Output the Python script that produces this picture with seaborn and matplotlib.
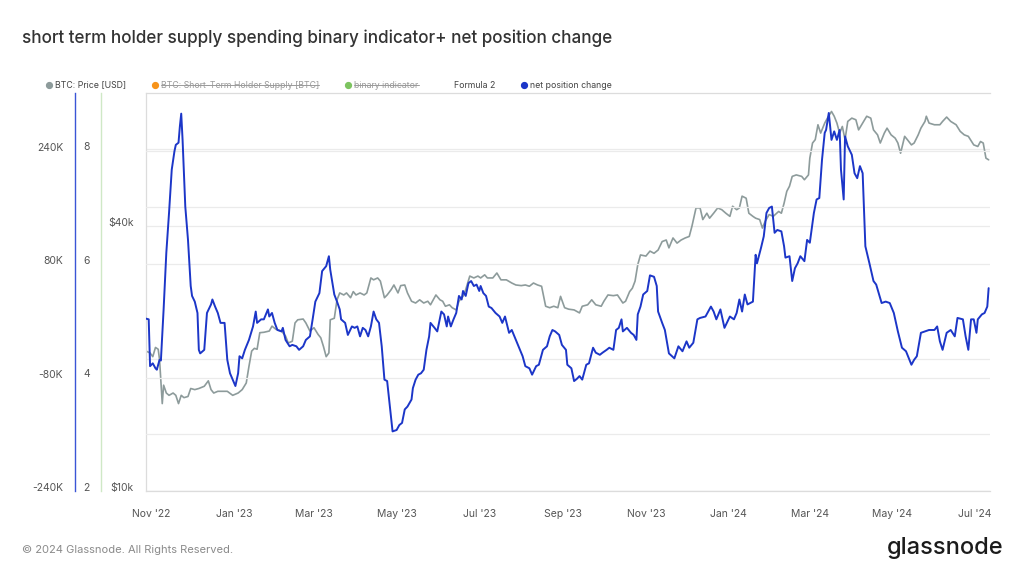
import matplotlib
matplotlib.use("Agg")
import matplotlib.pyplot as plt
import matplotlib.transforms as mtransforms
import seaborn as sns
import pandas as pd
from matplotlib.lines import Line2D

# -------------------------
# Data
# -------------------------
net_dates = [
    "2022-10-28", "2022-10-30", "2022-10-31", "2022-11-02", "2022-11-04", "2022-11-05", "2022-11-07",
    "2022-11-08", "2022-11-10", "2022-11-12", "2022-11-14", "2022-11-16", "2022-11-18", "2022-11-19",
    "2022-11-21", "2022-11-22", "2022-11-23", "2022-11-24", "2022-11-26", "2022-11-28", "2022-11-30",
    "2022-12-01", "2022-12-03", "2022-12-05", "2022-12-06", "2022-12-07", "2022-12-10", "2022-12-12",
    "2022-12-15", "2022-12-16", "2022-12-18", "2022-12-20", "2022-12-22", "2022-12-25", "2022-12-27",
    "2022-12-29", "2022-12-31",
    "2023-01-02", "2023-01-04", "2023-01-05", "2023-01-07", "2023-01-09", "2023-01-12", "2023-01-15",
    "2023-01-17", "2023-01-18", "2023-01-21", "2023-01-23", "2023-01-26", "2023-01-27", "2023-01-29",
    "2023-01-31",
    "2023-02-02", "2023-02-05", "2023-02-06", "2023-02-08", "2023-02-11", "2023-02-13", "2023-02-16",
    "2023-02-18", "2023-02-21", "2023-02-23", "2023-02-26", "2023-02-28",
    "2023-03-02", "2023-03-05", "2023-03-07", "2023-03-10", "2023-03-12", "2023-03-13", "2023-03-16",
    "2023-03-18", "2023-03-20", "2023-03-21", "2023-03-24", "2023-03-26", "2023-03-29", "2023-03-31",
    "2023-04-02", "2023-04-04", "2023-04-06", "2023-04-08", "2023-04-10", "2023-04-12", "2023-04-14",
    "2023-04-16", "2023-04-18", "2023-04-20", "2023-04-22", "2023-04-24", "2023-04-26", "2023-04-28",
    "2023-05-01", "2023-05-03", "2023-05-05", "2023-05-07", "2023-05-09", "2023-05-12", "2023-05-13",
    "2023-05-15", "2023-05-17", "2023-05-19", "2023-05-21", "2023-05-23", "2023-05-25", "2023-05-26",
    "2023-05-29", "2023-05-31",
    "2023-06-03", "2023-06-05", "2023-06-07", "2023-06-08", "2023-06-10", "2023-06-12", "2023-06-14",
    "2023-06-16", "2023-06-18", "2023-06-19", "2023-06-21", "2023-06-23", "2023-06-25", "2023-06-27",
    "2023-06-29",
    "2023-07-01", "2023-07-02", "2023-07-04", "2023-07-06", "2023-07-08", "2023-07-10", "2023-07-13",
    "2023-07-16", "2023-07-18", "2023-07-20", "2023-07-23", "2023-07-25", "2023-07-28", "2023-07-31",
    "2023-08-02", "2023-08-04", "2023-08-07", "2023-08-09", "2023-08-12", "2023-08-14", "2023-08-17",
    "2023-08-20", "2023-08-22", "2023-08-24", "2023-08-26", "2023-08-29", "2023-08-31",
    "2023-09-03", "2023-09-04", "2023-09-07", "2023-09-09", "2023-09-11", "2023-09-13", "2023-09-15",
    "2023-09-18", "2023-09-20", "2023-09-23", "2023-09-25", "2023-09-28", "2023-09-30",
    "2023-10-03", "2023-10-05", "2023-10-08", "2023-10-10", "2023-10-12", "2023-10-14", "2023-10-15",
    "2023-10-18", "2023-10-21", "2023-10-23", "2023-10-25", "2023-10-26", "2023-10-28", "2023-10-30",
    "2023-11-02", "2023-11-04", "2023-11-07", "2023-11-09", "2023-11-10", "2023-11-13", "2023-11-15",
    "2023-11-18", "2023-11-22", "2023-11-25", "2023-11-28",
    "2023-12-01", "2023-12-03", "2023-12-06", "2023-12-09", "2023-12-11", "2023-12-15", "2023-12-19",
    "2023-12-21", "2023-12-23", "2023-12-26", "2023-12-29",
    "2024-01-02", "2024-01-05", "2024-01-07", "2024-01-09", "2024-01-11", "2024-01-13", "2024-01-15",
    "2024-01-19", "2024-01-21", "2024-01-22", "2024-01-25", "2024-01-27", "2024-01-29", "2024-01-31",
    "2024-02-02", "2024-02-04", "2024-02-06", "2024-02-09", "2024-02-11", "2024-02-12", "2024-02-15",
    "2024-02-17", "2024-02-19", "2024-02-21", "2024-02-23", "2024-02-26", "2024-02-28",
    "2024-03-01", "2024-03-04", "2024-03-06", "2024-03-08", "2024-03-10", "2024-03-12", "2024-03-13",
    "2024-03-15", "2024-03-17", "2024-03-19", "2024-03-21", "2024-03-23", "2024-03-24", "2024-03-26",
    "2024-03-27", "2024-03-29",
    "2024-04-01", "2024-04-03", "2024-04-05", "2024-04-07", "2024-04-09", "2024-04-11", "2024-04-14",
    "2024-04-17", "2024-04-19", "2024-04-23", "2024-04-26", "2024-04-29",
    "2024-05-02", "2024-05-05", "2024-05-08", "2024-05-11", "2024-05-15", "2024-05-17", "2024-05-19",
    "2024-05-22", "2024-05-25", "2024-05-28",
    "2024-06-01", "2024-06-03", "2024-06-05", "2024-06-07", "2024-06-10", "2024-06-13", "2024-06-16",
    "2024-06-18", "2024-06-22", "2024-06-24", "2024-06-26", "2024-06-28", "2024-06-30",
    "2024-07-02", "2024-07-03", "2024-07-06", "2024-07-08", "2024-07-10", "2024-07-11",
]
# net position change, thousands of BTC
net_change_k = [
    3, 2, -64, -60, -67, -69, -55, -56, 16, 96, 152, 213, 239, 248, 251, 274, 292, 255, 161, 114, 49,
    35, 27, 11, -41, -46, -41, 11, 23, 30, 20, 11, -3, -3, -55, -74, -83,
    -92, -74, -50, -53, -41, -27, -8, 13, -3, 2, 2, 16, 6, 11, -3,
    -13, -15, -10, -27, -36, -34, -36, -41, -36, -27, -22, 2,
    27, 39, 70, 77, 91, 72, 37, 27, 16, 2, -3, -20, -8, -10,
    -8, -22, -10, -13, -22, -8, 13, 2, -3, -36, -83, -85, -121, -156,
    -154, -147, -144, -125, -121, -111, -95, -83, -76, -74, -69, -41, -22, -3, -10, -15,
    13, 9, -8, 6, -8, 2, 11, 35, 30, 42, 35, 53, 56, 49, 51,
    42, 49, 39, 35, 20, 18, 11, 6, -3, 6, -17, -13, -27, -41,
    -50, -64, -67, -76, -64, -62, -41, -36, -22, -13, -15, -20, -34,
    -41, -62, -67, -85, -82, -78, -83, -62, -60, -38, -45, -48, -45,
    -41, -38, -41, -13, -10, 2, -15, -10, -17, -20, -27, 9, 20, 37,
    42, 64, 62, 49, 13, -3, -13, -46, -53, -36, -43,
    -29, -38, -31, 2, 4, 6, 20, 13, 2, 16, -10,
    6, 2, 11, 30, 13, 37, 23, 27, 93, 81, 103, 119, 152, 159,
    161, 124, 128, 126, 105, 89, 91, 56, 74, 81, 91, 84, 114,
    110, 152, 171, 173, 227, 265, 269, 293, 255, 267, 255, 269, 213, 171, 260, 246,
    234, 208, 201, 218, 208, 105, 81, 56, 51, 25, 27, 25,
    11, -15, -38, -43, -62, -55, -50, -17, -15, -13,
    -13, -8, -29, -41, -17, -13, -22, 4, 2, -22, -41, 2, 2,
    -17, 2, 9, 11, 20, 46,
]

price_dates = [
    "2022-10-28", "2022-10-31", "2022-11-02", "2022-11-04", "2022-11-06", "2022-11-07", "2022-11-09",
    "2022-11-10", "2022-11-12", "2022-11-14", "2022-11-17", "2022-11-19", "2022-11-21", "2022-11-23",
    "2022-11-25", "2022-11-28", "2022-11-30",
    "2022-12-03", "2022-12-06", "2022-12-10", "2022-12-13", "2022-12-15", "2022-12-17", "2022-12-20",
    "2022-12-24", "2022-12-27", "2022-12-31",
    "2023-01-04", "2023-01-07", "2023-01-10", "2023-01-12", "2023-01-14", "2023-01-16", "2023-01-18",
    "2023-01-20", "2023-01-23", "2023-01-27", "2023-01-29",
    "2023-02-01", "2023-02-05", "2023-02-08", "2023-02-10", "2023-02-13", "2023-02-15", "2023-02-17",
    "2023-02-21", "2023-02-23", "2023-02-26",
    "2023-03-01", "2023-03-04", "2023-03-06", "2023-03-08", "2023-03-10", "2023-03-12", "2023-03-13",
    "2023-03-16", "2023-03-18", "2023-03-20", "2023-03-23", "2023-03-25", "2023-03-28", "2023-03-30",
    "2023-04-01", "2023-04-04", "2023-04-07", "2023-04-09", "2023-04-12", "2023-04-14", "2023-04-17",
    "2023-04-19", "2023-04-22", "2023-04-24", "2023-04-27", "2023-04-29",
    "2023-05-02", "2023-05-04", "2023-05-07", "2023-05-09", "2023-05-12", "2023-05-15", "2023-05-18",
    "2023-05-21", "2023-05-24", "2023-05-26", "2023-05-30",
    "2023-06-02", "2023-06-04", "2023-06-06", "2023-06-09", "2023-06-11", "2023-06-14", "2023-06-16",
    "2023-06-19", "2023-06-21", "2023-06-24", "2023-06-27", "2023-06-30",
    "2023-07-02", "2023-07-05", "2023-07-07", "2023-07-11", "2023-07-14", "2023-07-17", "2023-07-21",
    "2023-07-25", "2023-07-28",
    "2023-08-01", "2023-08-04", "2023-08-07", "2023-08-10", "2023-08-13", "2023-08-16", "2023-08-19",
    "2023-08-22", "2023-08-25", "2023-08-28", "2023-08-30",
    "2023-09-02", "2023-09-05", "2023-09-09", "2023-09-13", "2023-09-15", "2023-09-19", "2023-09-22",
    "2023-09-25", "2023-09-29",
    "2023-10-01", "2023-10-04", "2023-10-08", "2023-10-11", "2023-10-15", "2023-10-17", "2023-10-20",
    "2023-10-22", "2023-10-24", "2023-10-26", "2023-10-28",
    "2023-11-01", "2023-11-04", "2023-11-07", "2023-11-10", "2023-11-13", "2023-11-16", "2023-11-18",
    "2023-11-21", "2023-11-24", "2023-11-27", "2023-11-30",
    "2023-12-03", "2023-12-05", "2023-12-08", "2023-12-11", "2023-12-13", "2023-12-16", "2023-12-18",
    "2023-12-21", "2023-12-24", "2023-12-27", "2023-12-30",
    "2024-01-02", "2024-01-04", "2024-01-07", "2024-01-09", "2024-01-11", "2024-01-14", "2024-01-16",
    "2024-01-19", "2024-01-21", "2024-01-24", "2024-01-26", "2024-01-28", "2024-01-31",
    "2024-02-03", "2024-02-07", "2024-02-09", "2024-02-11", "2024-02-13", "2024-02-15", "2024-02-17",
    "2024-02-20", "2024-02-24", "2024-02-26", "2024-02-29",
    "2024-03-01", "2024-03-03", "2024-03-05", "2024-03-07", "2024-03-09", "2024-03-12", "2024-03-14",
    "2024-03-17", "2024-03-19", "2024-03-21", "2024-03-23", "2024-03-25", "2024-03-27", "2024-03-29",
    "2024-04-01", "2024-04-04", "2024-04-06", "2024-04-09", "2024-04-12", "2024-04-15", "2024-04-17",
    "2024-04-20", "2024-04-22", "2024-04-25", "2024-04-27", "2024-04-30",
    "2024-05-03", "2024-05-05", "2024-05-07", "2024-05-10", "2024-05-12", "2024-05-15", "2024-05-17",
    "2024-05-20", "2024-05-22", "2024-05-25", "2024-05-26", "2024-05-28",
    "2024-06-01", "2024-06-05", "2024-06-07", "2024-06-10", "2024-06-13", "2024-06-17", "2024-06-20",
    "2024-06-23", "2024-06-26", "2024-06-30",
    "2024-07-03", "2024-07-05", "2024-07-07", "2024-07-09", "2024-07-11",
]
# BTC price, thousands of USD
price_usd_k = [
    20.8, 20.6, 20.2, 21.2, 21.0, 19.9, 15.8, 17.4, 16.7, 16.5, 16.7, 16.5, 15.8, 16.5, 16.3, 16.4, 17.1,
    17.0, 17.1, 17.3, 17.8, 17.0, 16.7, 16.85, 16.85, 16.85, 16.5,
    16.7, 17.0, 17.6, 19.2, 20.8, 21.1, 21.0, 22.9, 22.95, 23.1, 23.7,
    23.3, 23.1, 22.5, 21.7, 21.9, 24.1, 24.5, 24.6, 24.1, 23.1,
    23.5, 22.7, 22.3, 21.3, 20.2, 20.6, 24.5, 24.7, 27.2, 28.2, 27.9, 28.2, 27.5, 28.4,
    27.9, 28.2, 27.9, 28.2, 30.5, 30.2, 30.5, 30.0, 27.5, 27.9, 28.7, 29.4,
    28.2, 29.3, 29.4, 28.2, 27.0, 26.75, 27.2, 26.75, 27.0, 26.5, 27.9,
    27.2, 27.0, 26.3, 26.5, 26.1, 25.8, 27.0, 27.7, 28.7, 30.8, 30.5, 30.8,
    30.5, 31.0, 30.5, 30.5, 31.3, 30.2, 30.2, 29.7, 29.4,
    29.3, 29.4, 29.2, 29.7, 29.4, 29.2, 26.3, 26.1, 26.3, 26.1, 27.7,
    26.1, 25.9, 25.8, 25.4, 26.3, 26.5, 27.2, 26.5, 26.3,
    27.0, 27.9, 27.8, 27.9, 26.75, 27.0, 28.4, 28.9, 30.0, 32.7, 34.4,
    34.2, 35.1, 34.7, 35.3, 36.9, 37.2, 35.7, 37.6, 36.6, 37.2, 37.6,
    37.9, 40.0, 44.0, 44.0, 41.4, 42.8, 41.7, 42.8, 44.0, 43.6, 42.8,
    42.1, 44.4, 43.6, 44.0, 46.8, 46.3, 42.8, 42.1, 41.7, 41.4, 39.6, 41.0, 42.5,
    42.1, 43.2, 42.8, 45.1, 48.0, 49.3, 51.9, 52.3, 51.9, 51.0, 52.3,
    57.1, 61.8, 62.9, 68.0, 65.1, 68.6, 70.4, 72.9, 71.1, 68.6, 65.1, 67.4, 62.9, 69.2,
    70.4, 69.8, 66.2, 68.6, 71.1, 70.4, 66.2, 64.5, 61.8, 65.1, 66.8, 64.5,
    63.4, 61.8, 58.6, 64.0, 62.9, 61.2, 61.8, 64.5, 66.8, 69.2, 71.1, 68.6,
    68.0, 68.0, 69.2, 70.8, 69.2, 68.0, 65.7, 64.5, 64.0, 61.2,
    60.7, 62.3, 61.8, 57.1, 56.6,
]

month_ticks = ["2022-11-01", "2023-01-01", "2023-03-01", "2023-05-01", "2023-07-01", "2023-09-01",
               "2023-11-01", "2024-01-01", "2024-03-01", "2024-05-01", "2024-07-01"]
month_labels = ["Nov '22", "Jan '23", "Mar '23", "May '23", "Jul '23", "Sep '23",
                "Nov '23", "Jan '24", "Mar '24", "May '24", "Jul '24"]

net_ticks = [-240, -160, -80, 80, 160, 240]
net_tick_labels = ["-240K", "", "-80K", "80K", "", "240K"]
formula_ticks = [2, 4, 6, 8]
price_ticks = [10, 20, 40, 60]
price_tick_labels = ["$10k", "", "$40k", ""]

legend_labels = ["BTC: Price [USD]", "BTC: Short-Term Holder Supply [BTC]", "binary indicator",
                 "Formula 2", "net position change"]
legend_colors = ["#8d9b9b", "#f7931a", "#7dc460", None, "#1c36c8"]
legend_hidden = [False, True, True, False, False]

net_df = pd.DataFrame({"date": pd.to_datetime(net_dates), "net": net_change_k})
price_df = pd.DataFrame({"date": pd.to_datetime(price_dates), "price": price_usd_k})

# -------------------------
# Style
# -------------------------
sns.set_style("white")
plt.rcParams["font.family"] = ["Inter", "DejaVu Sans"]

GRID = "#ebebeb"
FRAME = "#dcdcdc"
TICK_TXT = "#555555"

fig = plt.figure(figsize=(10.24, 5.76), dpi=100)
W, H = 1024, 576
ax = fig.add_axes([146 / W, 1 - 491 / H, 844 / W, 398 / H])
x_range = (pd.Timestamp("2022-10-28"), pd.Timestamp("2024-07-12"))

# y tick labels sit a few pixels above their grid lines
lift = mtransforms.ScaledTranslation(0, 4 / 100, fig.dpi_scale_trans)

# price on log scale (main axes)
sns.lineplot(data=price_df, x="date", y="price", ax=ax, color="#8d9b9b",
             linewidth=1.2, estimator=None)
ax.set_yscale("log")
ax.set_ylim(10, 80.3)
ax.set_yticks(price_ticks)
ax.set_yticklabels(price_tick_labels)
ax.yaxis.set_minor_locator(plt.NullLocator())
ax.grid(axis="y", color=GRID, linewidth=0.9)
ax.grid(axis="x", visible=False)
ax.tick_params(axis="y", length=0, pad=9, labelsize=7.5, colors=TICK_TXT)
ax.set_xlim(*x_range)
ax.set_xticks(pd.to_datetime(month_ticks))
ax.set_xticklabels(month_labels)
ax.tick_params(axis="x", direction="inout", length=8, width=0.8, color=FRAME,
               pad=9, labelsize=7.5, labelcolor=TICK_TXT)
ax.set_xlabel("")
ax.set_ylabel("")
for side in ["top", "left", "bottom"]:
    ax.spines[side].set_color(FRAME)
    ax.spines[side].set_linewidth(0.9)
ax.spines["right"].set_visible(False)

# binary indicator axis: only its green spine shows
ax_bin = ax.twinx()
ax_bin.yaxis.tick_left()
ax_bin.set_yticks([])
for side in ["top", "right", "bottom"]:
    ax_bin.spines[side].set_visible(False)
ax_bin.spines["left"].set_position(("axes", (101 - 146) / 844))
ax_bin.spines["left"].set_color("#cfe8c6")
ax_bin.spines["left"].set_linewidth(1.0)

# Formula 2 axis: labels to the right of the blue spine
ax_f2 = ax.twinx()
ax_f2.set_ylim(2, 9.013)
ax_f2.set_yticks(formula_ticks)
ax_f2.set_yticklabels([str(t) for t in formula_ticks])
for side in ["top", "left", "bottom"]:
    ax_f2.spines[side].set_visible(False)
ax_f2.spines["right"].set_position(("axes", (75 - 146) / 844))
ax_f2.spines["right"].set_visible(False)
ax_f2.tick_params(axis="y", length=0, pad=6, labelsize=7.5, colors=TICK_TXT)
ax_f2.set_ylabel("")

# net position change axis, blue spine on far left
ax_net = ax.twinx()
sns.lineplot(data=net_df, x="date", y="net", ax=ax_net, color="#1c36c8",
             linewidth=1.4, estimator=None)
ax_net.set_ylim(-240, 321.1)
ax_net.yaxis.tick_left()
ax_net.yaxis.set_label_position("left")
ax_net.set_yticks(net_ticks)
ax_net.set_yticklabels(net_tick_labels)
ax_net.grid(axis="y", color=GRID, linewidth=0.9, zorder=0)
ax_net.grid(axis="x", visible=False)
ax_net.tick_params(axis="y", length=0, pad=8.5, labelsize=7.5, colors=TICK_TXT)
for side in ["top", "right", "bottom"]:
    ax_net.spines[side].set_visible(False)
ax_net.spines["left"].set_position(("axes", (75 - 146) / 844))
ax_net.spines["left"].set_color("#3a55d6")
ax_net.spines["left"].set_linewidth(1.0)
ax_net.set_ylabel("")
ax_net.set_xlabel("")
ax_net.set_xlim(*x_range)

for a in [ax, ax_f2, ax_net]:
    for lbl in a.get_yticklabels():
        lbl.set_transform(lbl.get_transform() + lift)

# -------------------------
# Title, legend, footer
# -------------------------
fig.text(22 / W, 1 - 38 / H, "short term holder supply spending binary indicator+ net position change",
         fontsize=12.3, fontweight="medium", color="#333333", va="center", ha="left")

fig.canvas.draw()
renderer = fig.canvas.get_renderer()
legend_y = 85
x_cursor = 49
for label, color, hidden in zip(legend_labels, legend_colors, legend_hidden):
    if color is not None:
        fig.add_artist(Line2D([x_cursor / W], [1 - legend_y / H], marker="o", markersize=4.2,
                              color=color, linestyle="none", transform=fig.transFigure))
    t = fig.text((x_cursor + 6) / W, 1 - legend_y / H, label, fontsize=6.3,
                 color="#9a9a9a" if hidden else "#444444", va="center", ha="left")
    bb = t.get_window_extent(renderer=renderer)
    if hidden:
        ymid = (bb.y0 + bb.y1) / 2
        fig.add_artist(Line2D([bb.x0 / W, bb.x1 / W], [ymid / H, ymid / H], color="#9a9a9a",
                              linewidth=0.7, transform=fig.transFigure))
    x_cursor = bb.x1 + 29

fig.text(22 / W, 1 - 550 / H, "© 2024 Glassnode. All Rights Reserved.", fontsize=8,
         color="#8a8a8a", va="center", ha="left")
fig.text(1003 / W, 1 - 548 / H, "glassnode", fontsize=17, fontweight="medium", color="#1b1b1b",
         va="center", ha="right")

fig.savefig("out.png", dpi=100)
